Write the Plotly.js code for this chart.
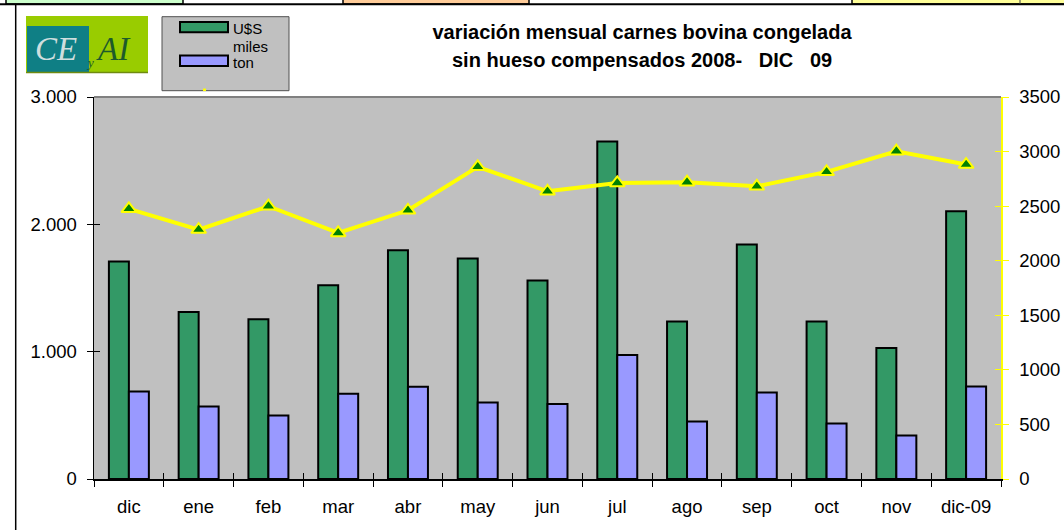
<!DOCTYPE html>
<html>
<head>
<meta charset="utf-8">
<script src="https://cdn.plot.ly/plotly-3.0.1.min.js"></script>
<style>
  html, body { margin: 0; padding: 0; background: #ffffff; }
  #chart { width: 1064px; height: 530px; }
</style>
</head>
<body>
<div id="chart"></div>
<script>
// Monthly values
const months = ['dic', 'ene', 'feb', 'mar', 'abr', 'may', 'jun', 'jul', 'ago', 'sep', 'oct', 'nov', 'dic-09'];
const usdValues = [1709, 1312, 1254, 1521, 1796, 1731, 1558, 2650, 1236, 1841, 1236, 1029, 2102];
const tonValues = [688, 570, 499, 670, 725, 601, 589, 974, 452, 680, 436, 342, 727];
const priceValues = [2475, 2285, 2499, 2255, 2462, 2860, 2636, 2713, 2719, 2682, 2814, 3003, 2881];

const titleLine1 = 'variación mensual carnes bovina congelada';
const titleLine2 = 'sin hueso compensados 2008-\u00a0\u00a0 DIC\u00a0\u00a0 09';

// plot area in pixels, used to place the decorations around it
const W = 1064, H = 530;
const L = 94, R = 1001, T = 97, B = 479;
const px = x => (x - L) / (R - L);
const py = y => (B - y) / (B - T);

const FONT = 'Liberation Sans, Arial, sans-serif';

function rect(x0, y0, x1, y1, fill, lineColor, lineWidth) {
    return {
        type: 'rect', xref: 'paper', yref: 'paper', layer: 'above',
        x0: px(x0), x1: px(x1), y0: py(y0), y1: py(y1),
        fillcolor: fill,
        line: { color: lineColor || fill, width: lineWidth === undefined ? 0 : lineWidth }
    };
}

function segment(x0, y0, x1, y1, color, width) {
    return {
        type: 'line', xref: 'paper', yref: 'paper', layer: 'above',
        x0: px(x0), x1: px(x1), y0: py(y0), y1: py(y1),
        line: { color: color, width: width }
    };
}

function label(x, y, text, opts) {
    return Object.assign({
        xref: 'paper', yref: 'paper', x: px(x), y: py(y),
        text: text, showarrow: false, xanchor: 'left', yanchor: 'middle',
        font: { family: FONT, size: 15, color: '#000000' }
    }, opts || {});
}

const usdTrace = {
    type: 'bar', name: 'U$S', x: months, y: usdValues,
    marker: { color: '#339966', line: { color: '#000000', width: 2 } },
    hoverinfo: 'x+y'
};

const tonTrace = {
    type: 'bar', name: 'miles ton', x: months, y: tonValues,
    marker: { color: '#9999ff', line: { color: '#000000', width: 2 } },
    hoverinfo: 'x+y'
};

const priceTrace = {
    type: 'scatter', mode: 'lines+markers', name: 'U$S/ton',
    x: months, y: priceValues, yaxis: 'y2',
    line: { color: '#ffff00', width: 4 },
    marker: { symbol: 'triangle-up', size: 13, color: '#008000', line: { color: '#ffff00', width: 2 } },
    cliponaxis: false
};

// empty traces that only carry the inner half of the crossing tick marks
const tickTraces = [
    { type: 'scatter', x: [], y: [], xaxis: 'x2', yaxis: 'y', hoverinfo: 'skip', showlegend: false },
    { type: 'scatter', x: [], y: [], xaxis: 'x', yaxis: 'y3', hoverinfo: 'skip', showlegend: false },
    { type: 'scatter', x: [], y: [], xaxis: 'x', yaxis: 'y4', hoverinfo: 'skip', showlegend: false }
];

const shapes = [
    // strip of spreadsheet cells cut off at the top
    rect(0, -2, 1064, 4.5, '#ffffff'),
    rect(6, -2, 183, 4, '#ccffcc', '#000000', 1.5),
    rect(343, -2, 529, 4, '#ffcc99', '#000000', 1.5),
    rect(852, -2, 1066, 4, '#ffff99', '#000000', 1.5),
    segment(0, 4.3, 1064, 4.3, '#000000', 2),
    segment(1020, 0, 1020, 4, '#404040', 1),
    segment(15.7, 4, 15.7, 531, '#000000', 1.5),
    // plot area top border
    segment(L, T, R, T, '#808080', 2),
    // logo
    rect(26, 16, 148, 72.5, '#99cc00'),
    rect(27, 26, 89, 72, '#0f7f85'),
    segment(26, 72.5, 148, 72.5, '#6f8a10', 1.5),
    // legend box
    rect(162, 16.7, 289, 90.7, '#c0c0c0', '#505050', 1),
    rect(180, 22, 228, 32.3, '#339966', '#000000', 2),
    rect(180, 55.5, 228, 66, '#9999ff', '#000000', 2),
    segment(203, 89.8, 206, 89.8, '#ffff00', 2.5)
];

const annotations = [
    // logo lettering
    label(33, 49, 'CE', { font: { family: 'Liberation Serif, serif', size: 33, color: '#cfdede', style: 'italic' } }),
    label(84, 62, 'y', { font: { family: 'Liberation Serif, serif', size: 13, color: '#1d5b2b', style: 'italic' } }),
    label(94, 49, 'AI', { font: { family: 'Liberation Serif, serif', size: 33, color: '#1d5b2b', style: 'italic' } }),
    // legend text
    label(231, 28, 'U$S'),
    label(231, 47, 'miles'),
    label(231, 62, 'ton'),
    // second title line
    label(642, 60, titleLine2, {
        xanchor: 'center',
        font: { family: FONT, size: 20, color: '#000000', weight: 'bold' }
    })
];

const tickFont = { family: FONT, size: 18.5, color: '#000000' };

const layout = {
    width: W, height: H,
    margin: { l: L, r: W - R, t: T, b: H - B, pad: 0 },
    paper_bgcolor: '#ffffff',
    plot_bgcolor: '#c0c0c0',
    separators: ',.',
    showlegend: false,
    barmode: 'group',
    bargap: 0.427,
    bargroupgap: 0,
    title: {
        text: titleLine1,
        x: 642 / W, xanchor: 'center',
        y: 1 - 31.7 / H, yanchor: 'middle',
        font: { family: FONT, size: 20, color: '#000000', weight: 'bold' }
    },
    xaxis: {
        type: 'category', range: [-0.5, 12.5],
        showline: true, linecolor: '#000000', linewidth: 1.5,
        ticks: 'outside', tickson: 'boundaries', ticklen: 6, tickcolor: '#000000', tickwidth: 1,
        tickfont: tickFont, ticklabelstandoff: 10,
        showgrid: false, zeroline: false, fixedrange: true
    },
    xaxis2: {
        overlaying: 'x', anchor: 'y', type: 'linear', range: [-0.5, 12.5],
        tickmode: 'linear', tick0: -0.5, dtick: 1,
        ticks: 'inside', ticklen: 6, tickcolor: '#000000', tickwidth: 1,
        showticklabels: false, showline: false, showgrid: false, zeroline: false, fixedrange: true
    },
    yaxis: {
        range: [0, 3000], tickmode: 'linear', tick0: 0, dtick: 1000, tickformat: ',d',
        showline: true, linecolor: '#000000', linewidth: 1.5,
        ticks: 'outside', ticklen: 6, tickcolor: '#000000', tickwidth: 1,
        tickfont: tickFont, ticklabelstandoff: 6,
        showgrid: false, zeroline: false, fixedrange: true
    },
    yaxis2: {
        overlaying: 'y', side: 'right', anchor: 'x',
        range: [0, 3500], tickmode: 'linear', tick0: 0, dtick: 500, tickformat: 'd',
        showline: true, linecolor: '#ffff00', linewidth: 1.5,
        ticks: 'outside', ticklen: 6, tickcolor: '#ffff00', tickwidth: 1,
        tickfont: tickFont, ticklabelstandoff: 7,
        showgrid: false, zeroline: false, fixedrange: true
    },
    yaxis3: {
        overlaying: 'y', side: 'left', anchor: 'x',
        range: [0, 3000], tickmode: 'linear', tick0: 0, dtick: 1000,
        ticks: 'inside', ticklen: 6, tickcolor: '#000000', tickwidth: 1,
        showticklabels: false, showline: false, showgrid: false, zeroline: false, fixedrange: true
    },
    yaxis4: {
        overlaying: 'y', side: 'right', anchor: 'x',
        range: [0, 3500], tickmode: 'linear', tick0: 0, dtick: 500,
        ticks: 'inside', ticklen: 6, tickcolor: '#ffff00', tickwidth: 1,
        showticklabels: false, showline: false, showgrid: false, zeroline: false, fixedrange: true
    },
    shapes: shapes,
    annotations: annotations
};

Plotly.newPlot('chart', [usdTrace, tonTrace, priceTrace].concat(tickTraces), layout, { displayModeBar: false, staticPlot: true });
</script>
</body>
</html>
